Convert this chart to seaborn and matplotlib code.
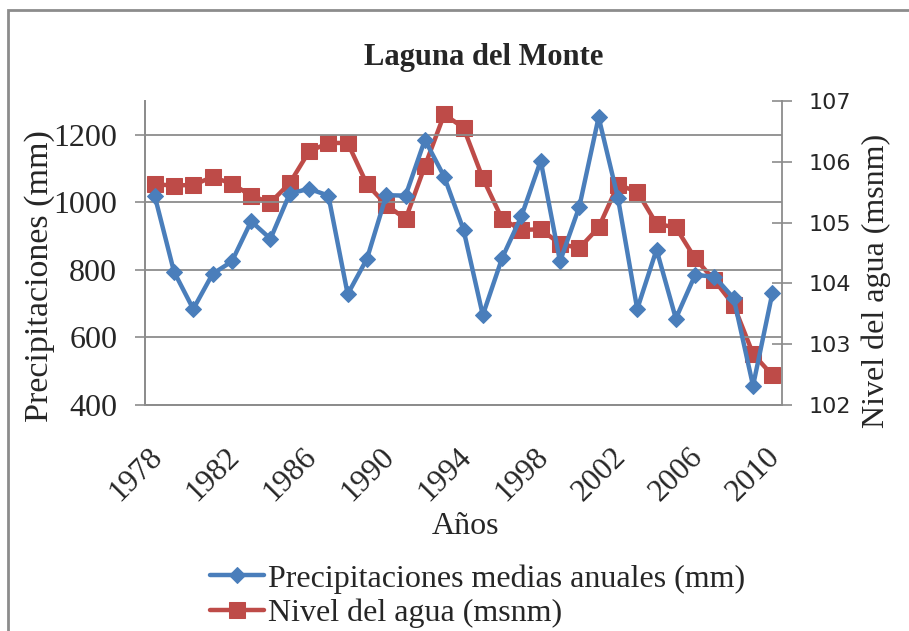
import numpy as np
import pandas as pd
import matplotlib
matplotlib.use('Agg')
import matplotlib.pyplot as plt
import matplotlib.patches as patches
import matplotlib.transforms as mtransforms
from matplotlib.ticker import FixedLocator, NullFormatter
import seaborn as sns

# datos
years = list(range(1978, 2011))
precip = [1020, 795, 684, 788, 825, 944, 892, 1026, 1040, 1020,
          728, 833, 1021, 1020, 1185, 1076, 919, 666, 835, 959,
          1123, 825, 987, 1252, 1013, 684, 860, 656, 785, 780,
          716, 457, 731]
nivel = [105.63, 105.61, 105.62, 105.75, 105.64, 105.44, 105.33, 105.65, 106.17, 106.31,
         106.31, 105.63, 105.29, 105.06, 105.93, 106.78, 106.56, 105.73, 105.06, 104.88,
         104.89, 104.65, 104.58, 104.92, 105.62, 105.51, 104.98, 104.92, 104.41, 104.05,
         103.64, 102.84, 102.49]
year_labels = [str(y) for y in range(1978, 2011, 4)]
left_ticks = [400, 600, 800, 1000, 1200]
right_ticks = [102, 103, 104, 105, 106, 107]

df = pd.DataFrame({'anio': years, 'precip': precip, 'nivel': nivel})

sns.set_style('white')
serif = ['Liberation Serif', 'DejaVu Serif']
plt.rcParams['font.family'] = serif

blue = '#4A7EBB'
red = '#BE4B48'
grey = '#8C8C8C'

fig = plt.figure(figsize=(9.09, 6.31), dpi=100)
ax = fig.add_axes([145/909, 1-405/631, (782-145)/909, (405-101)/631])
ax2 = ax.twinx()

sns.lineplot(data=df, x='anio', y='precip', ax=ax, color=blue, lw=3.2,
             marker='D', markersize=8, markeredgecolor=blue, label='Precipitaciones medias anuales (mm)',
             legend=False, zorder=3)
sns.lineplot(data=df, x='anio', y='nivel', ax=ax2, color=red, lw=3.2,
             marker='s', markersize=11, markeredgecolor=red, label='Nivel del agua (msnm)',
             legend=False, zorder=2)
ax.set_zorder(ax2.get_zorder() + 1)
ax.patch.set_visible(False)

ax.set_xlim(1977.5, 2010.5)
ax.set_ylim(400, 1300)
ax2.set_ylim(102, 107)

ax.set_yticks(left_ticks)
ax.set_yticklabels([str(v) for v in left_ticks], fontsize=23)
ax.yaxis.grid(True, color=grey, lw=1.3)
ax.tick_params(axis='y', length=7, color=grey, width=1.2, pad=13)

ax.set_xticks(range(1978, 2011, 4))
ax.set_xticklabels(year_labels, rotation=45, ha='right', va='top', rotation_mode='anchor', fontsize=22.5)
ax.xaxis.set_minor_locator(FixedLocator(np.arange(1977.5, 2011, 1)))
ax.xaxis.set_minor_formatter(NullFormatter())
ax.tick_params(axis='x', which='major', length=0, pad=27)
ax.tick_params(axis='x', which='minor', length=7, color=grey, width=1.2)
for t in ax.get_xticklabels():
    t.set_transform(t.get_transform() + mtransforms.ScaledTranslation(-7/100, 0, fig.dpi_scale_trans))

ax2.set_yticks(right_ticks)
ax2.set_yticklabels([str(v) for v in right_ticks], fontsize=16, family='DejaVu Sans')
ax2.tick_params(axis='y', direction='inout', length=14, color=grey, width=1.2, pad=12)

for a in (ax, ax2):
    a.spines['top'].set_visible(False)
    for s in ('left', 'right', 'bottom'):
        a.spines[s].set_color(grey)
        a.spines[s].set_linewidth(1.3)
ax.spines['right'].set_visible(False)
ax.set_xlabel('')
ax.set_ylabel('')
ax2.set_ylabel('')

# titulos
fig.text(484/909, 1-57/631, 'Laguna del Monte', ha='center', va='center',
         fontsize=22, fontweight='bold')
fig.text(466/909, 1-526/631, 'Años', ha='center', va='center', fontsize=23)
fig.text(40/909, 1-276/631, 'Precipitaciones (mm)', ha='center', va='center',
         rotation=90, fontsize=24.5)
fig.text(876/909, 1-281/631, 'Nivel del agua (msnm)', ha='center', va='center',
         rotation=90, fontsize=23)

h1, l1 = ax.get_legend_handles_labels()
h2, l2 = ax2.get_legend_handles_labels()
fig.legend(h1 + h2, l1 + l2, loc='upper left', bbox_to_anchor=(210/909, 1-564/631),
           frameon=False, fontsize=23, handlelength=1.7, handletextpad=0.1,
           labelspacing=0.15, borderpad=0, borderaxespad=0)

# marco exterior del grafico
frame = patches.Rectangle((8/909, -0.2), 1.2, 1 - 10/631 + 0.2, transform=fig.transFigure,
                          fill=False, edgecolor=grey, lw=2)
fig.patches.append(frame)

fig.savefig('out.png', dpi=100)
